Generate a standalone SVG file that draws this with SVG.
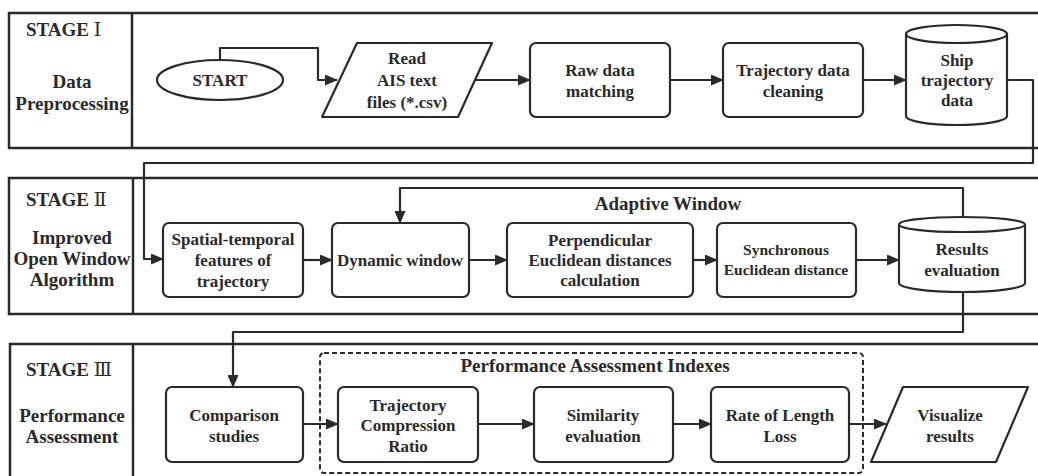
<svg xmlns="http://www.w3.org/2000/svg" width="1038" height="476" viewBox="0 0 1038 476">
<defs>
<style>
.frame{fill:none;stroke:#2a2a2a;stroke-width:2.5}
.box{fill:#fff;stroke:#2a2a2a;stroke-width:2.2}
.conn{fill:none;stroke:#2a2a2a;stroke-width:2.2;stroke-linejoin:round}
.t{font-family:"Liberation Serif","DejaVu Serif",serif;font-weight:bold;font-size:17px;fill:#2a2a2a;text-anchor:middle}
.ts{font-size:15.5px}
.st{font-family:"Liberation Serif","DejaVu Serif",serif;font-weight:bold;font-size:19px;fill:#2a2a2a}
.mid{text-anchor:middle}
.rn{font-family:"DejaVu Serif","Noto Sans CJK SC",serif;font-weight:normal}
</style>
<marker id="ah" markerWidth="13" markerHeight="11" refX="12" refY="5.5" orient="auto" markerUnits="userSpaceOnUse">
<path d="M0,0 L13,5.5 L0,11 Z" fill="#2a2a2a"/>
</marker>
</defs>
<rect width="1038" height="476" fill="#fff"/>

<g id="stage1">
<rect class="frame" x="9" y="13" width="1040" height="135"/>
<line class="frame" x1="132" y1="13" x2="132" y2="148"/>
<text class="st" x="26" y="36">STAGE <tspan class="rn">Ⅰ</tspan></text>
<text class="st mid" x="72" y="88">Data</text>
<text class="st mid" x="72" y="110">Preprocessing</text>
</g>
<g id="stage2">
<rect class="frame" x="9" y="178" width="1040" height="136"/>
<line class="frame" x1="133" y1="178" x2="133" y2="314"/>
<text class="st" x="26" y="206">STAGE <tspan class="rn">Ⅱ</tspan></text>
<text class="st mid" x="72" y="244">Improved</text>
<text class="st mid" x="72" y="265">Open Window</text>
<text class="st mid" x="72" y="286">Algorithm</text>
<text class="st mid" x="668" y="210">Adaptive Window</text>
</g>
<g id="stage3">
<rect class="frame" x="10" y="344" width="1040" height="140"/>
<line class="frame" x1="133" y1="344" x2="133" y2="484"/>
<text class="st" x="26" y="376">STAGE <tspan class="rn">Ⅲ</tspan></text>
<text class="st mid" x="72" y="422">Performance</text>
<text class="st mid" x="72" y="443">Assessment</text>
</g>
<g id="indexes">
<rect x="320" y="353" width="543" height="120" rx="4" fill="none" stroke="#2a2a2a" stroke-width="2" stroke-dasharray="5,3"/>
<text class="st mid" x="595" y="372">Performance Assessment Indexes</text>
</g>

<g id="connectors">
<polyline class="conn" points="220,60 220,48 318,48 318,80 337,80" marker-end="url(#ah)"/>
<line class="conn" x1="476" y1="80" x2="530" y2="80" marker-end="url(#ah)"/>
<line class="conn" x1="670" y1="80" x2="723" y2="80" marker-end="url(#ah)"/>
<line class="conn" x1="863" y1="80" x2="906" y2="80" marker-end="url(#ah)"/>
<polyline class="conn" points="1007,80 1033,80 1033,163 144,163 144,259 163,259" marker-end="url(#ah)"/>
<line class="conn" x1="303" y1="260" x2="332" y2="260" marker-end="url(#ah)"/>
<line class="conn" x1="469" y1="260" x2="507" y2="260" marker-end="url(#ah)"/>
<line class="conn" x1="693" y1="260" x2="717" y2="260" marker-end="url(#ah)"/>
<line class="conn" x1="856" y1="260" x2="899" y2="260" marker-end="url(#ah)"/>
<polyline class="conn" points="963,217 963,188 400,188 400,223" marker-end="url(#ah)"/>
<polyline class="conn" points="963,292 963,332 233,332 233,387" marker-end="url(#ah)"/>
<line class="conn" x1="303" y1="424" x2="338" y2="424" marker-end="url(#ah)"/>
<line class="conn" x1="478" y1="424" x2="534" y2="424" marker-end="url(#ah)"/>
<line class="conn" x1="673" y1="424" x2="711" y2="424" marker-end="url(#ah)"/>
<line class="conn" x1="849" y1="424" x2="886" y2="424" marker-end="url(#ah)"/>
</g>

<g id="start">
<ellipse class="box" cx="220" cy="80" rx="63" ry="20"/>
<text class="t" x="220" y="86">START</text>
</g>
<g id="read">
<polygon class="box" points="357,43 492,43 458,117 322,117" stroke-linejoin="round"/>
<text class="t" x="407" y="64">Read</text>
<text class="t" x="407" y="86">AIS text</text>
<text class="t" x="407" y="108">files (*.csv)</text>
</g>
<g id="raw">
<rect class="box" x="530" y="43" width="140" height="74" rx="6"/>
<text class="t" x="600" y="76">Raw data</text>
<text class="t" x="600" y="97">matching</text>
</g>
<g id="cleaning">
<rect class="box" x="723" y="43" width="140" height="74" rx="6"/>
<text class="t" x="793" y="76">Trajectory data</text>
<text class="t" x="793" y="97">cleaning</text>
</g>
<g id="ship">
<path class="box" d="M906,34 A50.5,9 0 0,1 1007,34 L1007,116 A50.5,9 0 0,1 906,116 Z"/>
<path class="conn" d="M906,34 A50.5,9 0 0,0 1007,34"/>
<text class="t" x="957" y="66">Ship</text>
<text class="t" x="957" y="86">trajectory</text>
<text class="t" x="957" y="106">data</text>
</g>

<g id="spatial">
<rect class="box" x="163" y="223" width="140" height="74" rx="6"/>
<text class="t" x="233" y="245">Spatial-temporal</text>
<text class="t" x="233" y="266">features of</text>
<text class="t" x="233" y="287">trajectory</text>
</g>
<g id="dynamic">
<rect class="box" x="332" y="223" width="137" height="74" rx="6"/>
<text class="t" x="400" y="266">Dynamic window</text>
</g>
<g id="perpendicular">
<rect class="box" x="507" y="223" width="186" height="74" rx="6"/>
<text class="t" x="600" y="246">Perpendicular</text>
<text class="t" x="600" y="266">Euclidean distances</text>
<text class="t" x="600" y="286">calculation</text>
</g>
<g id="synchronous">
<rect class="box" x="717" y="223" width="139" height="74" rx="6"/>
<text class="t ts" x="786" y="255">Synchronous</text>
<text class="t ts" x="786" y="275">Euclidean distance</text>
</g>
<g id="results">
<path class="box" d="M899,224.5 A63,7.5 0 0,1 1025,224.5 L1025,283 A63,9 0 0,1 899,283 Z"/>
<path class="conn" d="M899,224.5 A63,7.5 0 0,0 1025,224.5"/>
<text class="t" x="962" y="255">Results</text>
<text class="t" x="962" y="276">evaluation</text>
</g>

<g id="comparison">
<rect class="box" x="166" y="387" width="137" height="75" rx="6"/>
<text class="t" x="234" y="421">Comparison</text>
<text class="t" x="234" y="442">studies</text>
</g>
<g id="compression">
<rect class="box" x="338" y="387" width="140" height="75" rx="6"/>
<text class="t" x="408" y="411">Trajectory</text>
<text class="t" x="408" y="431">Compression</text>
<text class="t" x="408" y="452">Ratio</text>
</g>
<g id="similarity">
<rect class="box" x="534" y="387" width="139" height="75" rx="6"/>
<text class="t" x="603" y="421">Similarity</text>
<text class="t" x="603" y="442">evaluation</text>
</g>
<g id="rate">
<rect class="box" x="711" y="387" width="138" height="75" rx="6"/>
<text class="t" x="780" y="421">Rate of Length</text>
<text class="t" x="780" y="442">Loss</text>
</g>
<g id="visualize">
<polygon class="box" points="903,387 1028,387 996,462 871,462" stroke-linejoin="round"/>
<text class="t" x="950" y="421">Visualize</text>
<text class="t" x="950" y="442">results</text>
</g>
</svg>
